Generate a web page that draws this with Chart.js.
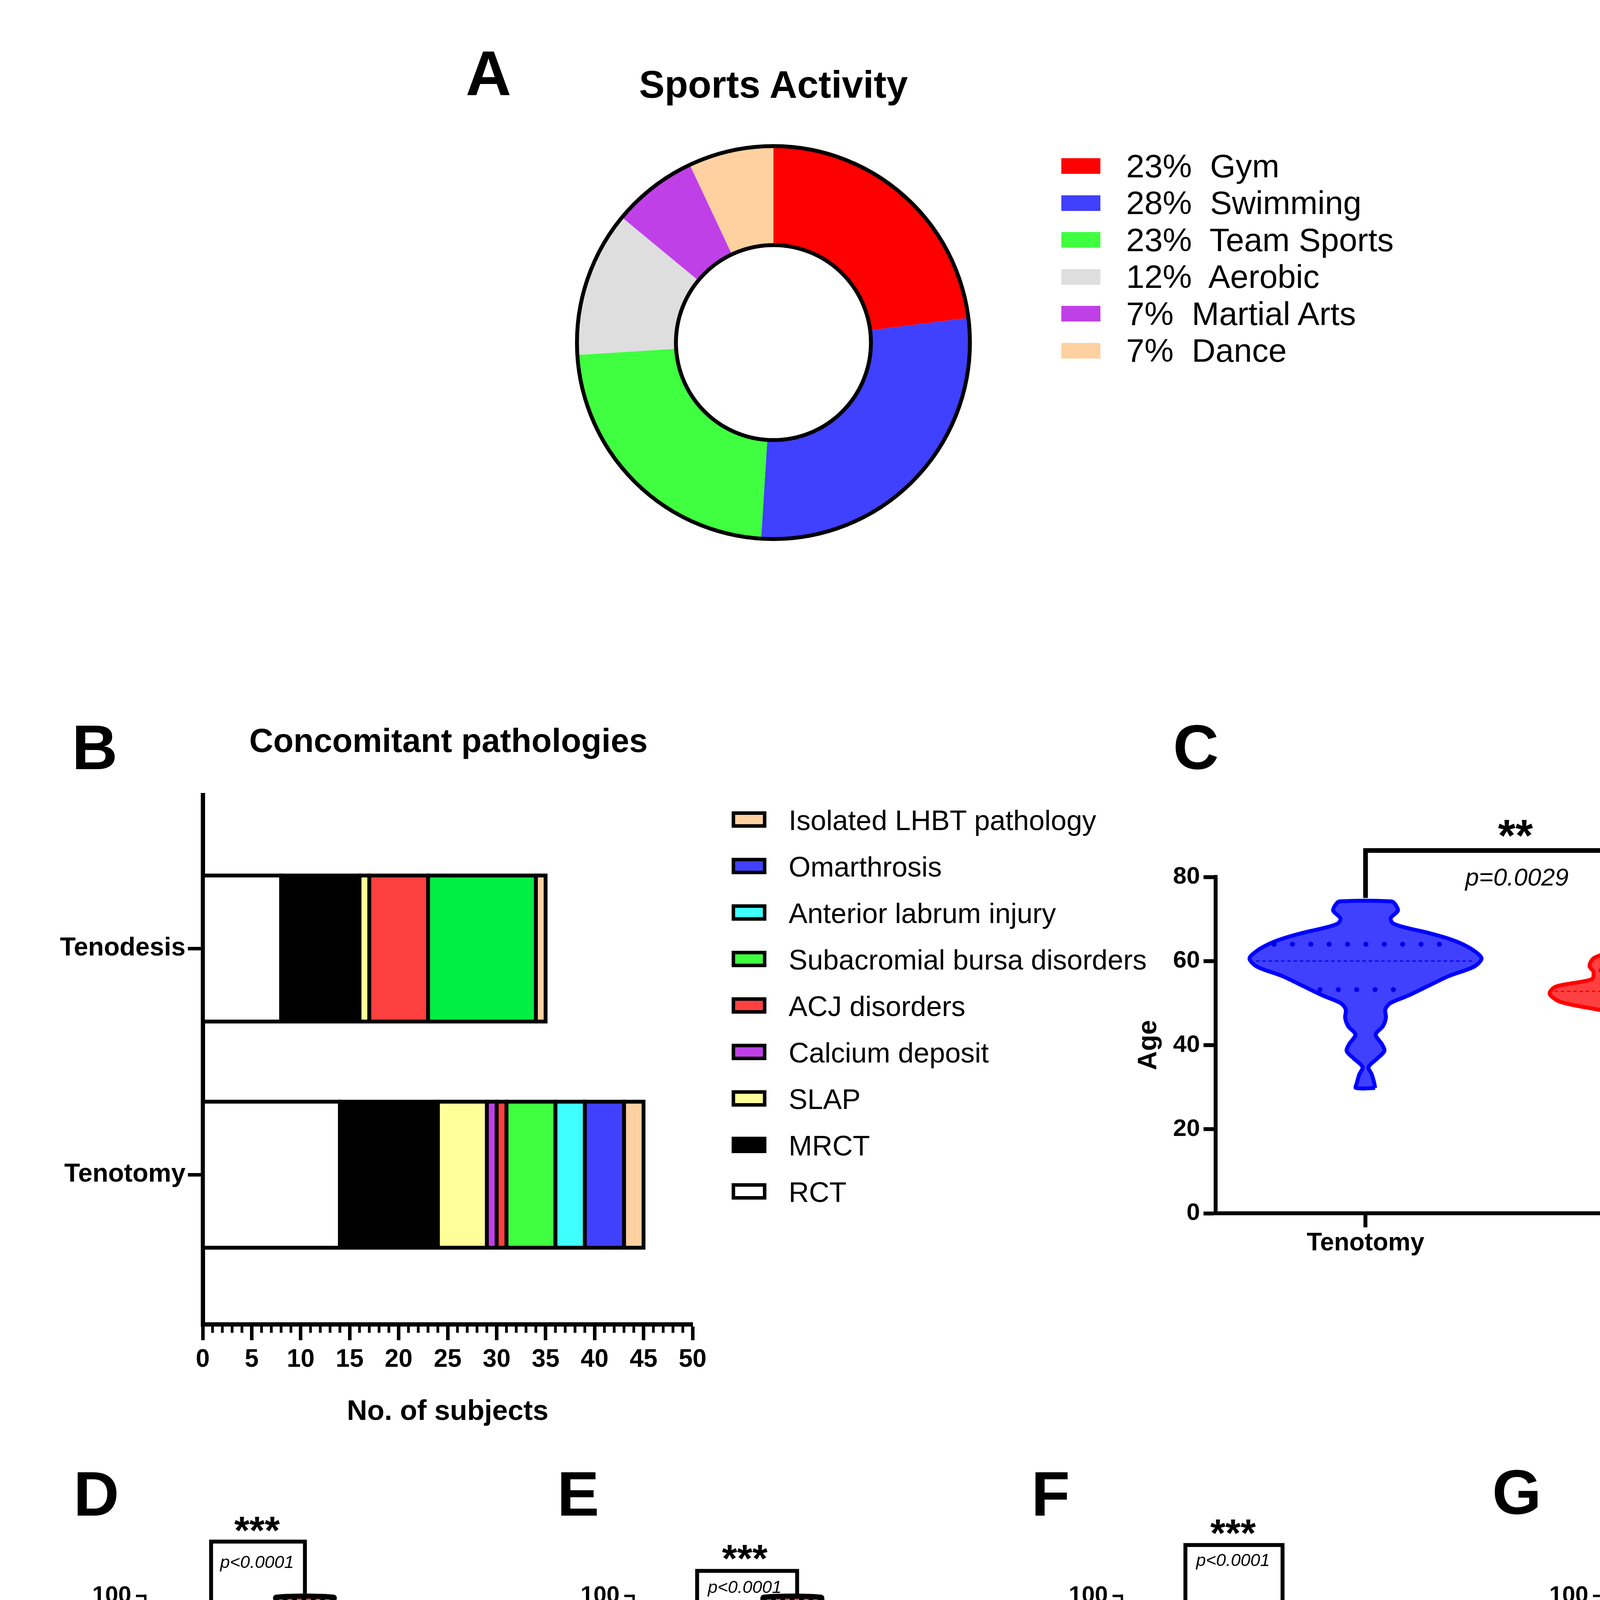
<!DOCTYPE html>
<html>
<head>
<meta charset="utf-8">
<script src="https://cdn.jsdelivr.net/npm/chart.js"></script>
<style>
  body { margin: 0; background: #fff; }
  #page { position: relative; width: 4919px; height: 6965px; overflow: hidden; background: #fff;
          font-family: 'Liberation Sans', Arial, sans-serif; color: #000; }
  canvas { position: absolute; }
  .t { position: absolute; white-space: pre; line-height: 1; }
  .box { position: absolute; box-sizing: border-box; }
</style>
</head>
<body>
<div id="page"></div>
<script>
// ---------- data ----------
// A: sports activity
const sportLabels = ['Gym', 'Swimming', 'Team Sports', 'Aerobic', 'Martial Arts', 'Dance'];
const sportShare = [23, 28, 23, 12, 7, 7];
const sportColors = ['#FF0000', '#4040FF', '#40FF40', '#DEDEDE', '#C040E8', '#FFD0A0'];

// B: concomitant pathologies (stack order left to right)
const groupLabels = ['Tenodesis', 'Tenotomy'];
const pathologyLabels = ['RCT', 'MRCT', 'SLAP', 'Calcium deposit', 'ACJ disorders',
  'Subacromial bursa disorders', 'Anterior labrum injury', 'Omarthrosis', 'Isolated LHBT pathology'];
const tenodesisCounts = [8, 8, 1, 0, 6, 11, 0, 0, 1];
const tenotomyCounts = [14, 10, 5, 1, 1, 5, 3, 4, 2];
const pathologyColors = ['#FFFFFF', '#000000', '#FFFF99', '#C040E8', '#FF4040', '#40FF40', '#40FFFF', '#4040FF', '#FFD0A0'];
const subjectTicks = [0, 5, 10, 15, 20, 25, 30, 35, 40, 45, 50];

// C: age violins (level, half width in category units)
const ageGroups = ['Tenotomy', 'Tenodesis'];
const tenotomyAgeY = [29.8, 31, 33, 34.8, 36.8, 38.6, 40.2, 42.5, 44.5, 46.5, 48.5, 50, 51.8, 54, 56.4, 58.7, 60.6, 62.4, 64.2, 65.5, 66.8, 68, 69, 70.2, 72, 73.5, 74.2];
const tenotomyAgeW = [.032, .029, .021, .01, .039, .063, .055, .034, .058, .068, .066, .083, .143, .207, .277, .363, .387, .363, .318, .269, .204, .131, .091, .084, .108, .099, .086];
const tenodesisAgeY = [26.8, 28.2, 30.2, 32.9, 35.6, 37.4, 39.1, 41, 42.7, 44.9, 46.7, 48.5, 50.3, 52.2, 53.9, 55.7, 57.5, 58.8, 60.6, 61.9, 62.8, 63.7, 65.5, 67.7, 70, 71.5, 73, 74.6];
const tenodesisAgeW = [.092, .096, .066, .099, .042, .01, .047, .07, .094, .042, .075, .228, .35, .386, .366, .245, .24, .253, .24, .194, .139, .047, .01, .01, .01, .026, .058, .088];
const tenotomyAgeQ = [53.2, 60, 64];
const tenotomyAgeQW = [.152, .365, .305];
const tenodesisAgeQ = [48.8, 52.8, 57.8];
const tenodesisAgeQW = [.185, .37, .214];

// D-G: ASES violins
const asesGroups = ['Preoperative ASES', 'Postoperative ASES'];
const techGroups = ['Tenotomy', 'Tenodesis'];
const dPreY = [33.6, 34.4, 35.5, 37.6, 39.9, 41.6, 43.0, 44.4, 45.8, 47.3, 49.8, 52.0, 53.8, 55.4, 57.4, 59.0, 59.9];
const dPreW = [.07, .095, .123, .219, .305, .219, .14, .09, .11, .14, .22, .165, .125, .125, .16, .135, .115];
const dPostY = [50.0, 51.5, 53.8, 57.4, 61.0, 64.5, 68.0, 71.5, 75.0, 78.5, 81.5, 84.2, 87.5, 90.0, 92.5, 95.5, 98.0, 99.7];
const dPostW = [.03, .03, .04, .08, .115, .135, .16, .175, .18, .185, .175, .13, .075, .065, .09, .18, .27, .30];
const ePreY = [34.0, 35.9, 37.7, 39.5, 41.7, 44.0, 46.2, 48.9, 52.0, 53.8, 56.0, 57.8, 59.0, 59.9];
const ePreW = [.07, .127, .222, .28, .197, .08, .127, .19, .149, .102, .222, .286, .25, .19];
const ePostY = [50.0, 51.5, 54.7, 58.3, 62.7, 66.3, 69.9, 75.2, 80.6, 86.0, 89.5, 92.7, 95.4, 97.6, 99.7];
const ePostW = [.015, .02, .035, .064, .035, .012, .015, .04, .06, .04, .035, .085, .18, .277, .30];
const fPreY = [34.0, 35.0, 36.8, 38.8, 40.8, 42.2, 44.4, 47.5, 50.2, 52.9, 55.1, 57.4, 59.9];
const fPreW = [.064, .095, .213, .302, .213, .095, .038, .118, .21, .149, .07, .025, .025];
const fPostY = [50.0, 52.0, 54.7, 57.4, 60.0, 63.6, 66.8, 69.4, 72.1, 74.8, 76.6, 79.3, 81.9, 85.1, 88.7, 92.2, 95.5, 97.8];
const fPostW = [.03, .035, .012, .054, .111, .127, .229, .302, .245, .181, .2, .258, .204, .111, .054, .012, .035, .025];
const gTenotomyY = [50.0, 54.7, 58.3, 62.7, 66.8, 69.9, 75.2, 80.2, 84.2, 88.7, 92.2, 94.9, 97.6, 99.7];
const gTenotomyW = [.02, .037, .062, .037, .01, .014, .056, .076, .07, .056, .073, .158, .271, .305];
const gTenodesisY = [50.0, 52.0, 54.3, 57.4, 61.0, 65.4, 69.4, 72.3, 75.2, 79.3, 84.2, 88.7, 92.2, 95.5, 97.8];
const gTenodesisW = [.037, .037, .012, .04, .13, .2, .305, .26, .214, .271, .141, .051, .012, .03, .028];

// H-J: correlations
const hAge = [27,28,30,33,33,38,39,42,43,45,45,49,49,50,50,51,51,52,53,52,53,53,52,53,54,55,55,55,56,57,58,58,58,58,59,60,60,60,60,60,60,61,61,62,62,62,63,63,64,64,65,65,65,66,67,70,72,73,74,74,75];
const hPreAses = [50,50,56,50,40,45,56,40,60,55,48,55,40,50,38,47,42,60,60,40,50,46,38,36,40,52,46,36,52,50,58,50,40,38,34,56,46,45,42,40,35,58,34,48,40,38,60,40,56,38,60,57,36,49,50,50,40,58,56,38,38];
const hFitX = [28, 75];
const hFitY = [48.4, 44.9];
const iAge = [27,28,30,33,33,38,39,42,43,45,45,49,49,49,50,51,51,52,53,52,52,53,53,53,53,54,55,55,55,55,56,57,57,58,58,58,58,59,60,60,60,60,60,60,61,61,62,62,62,63,63,64,65,66,64,67,70,72,73,74,74,75];
const iPostAses = [98,80,100,80,78,100,80,80,80,95,60,98,85,80,70,80,68,100,100,75,50,83,78,75,70,58,83,72,70,62,96,100,90,100,68,65,55,60,100,96,86,75,68,50,100,60,86,70,58,100,94,100,100,100,96,78,100,100,98,73,65,72];
const iFitX = [28, 75];
const iFitY = [81, 82.3];
const jFollowUp = [7,9,10,10,10,12,12,12,13,13,13,13,14,14,14,15,15,16,16,18,18,18,18,18,18,20,20,22,22,24,24,24,25,26,27,29,29,29,30,30,30,30,32,33,34,36,36,36,37,38,38,40,44,45,45,45,44,48,49,50,51,53,54,54];
const jPostAses = [58,100,96,72,60,80,70,68,100,90,83,70,86,80,78,100,72,70,65,85,80,75,68,62,60,70,60,100,80,100,80,78,95,98,100,96,60,50,100,86,68,65,58,100,50,98,94,80,75,75,100,100,100,100,98,96,55,78,100,100,100,83,100,73];
const jFitX = [7, 54];
const jFitY = [74.5, 91.6];

// ---------- helpers ----------
const FONT = "'Liberation Sans', Arial, sans-serif";
Chart.defaults.font.family = FONT;
Chart.defaults.color = '#000';
Chart.defaults.animation = false;
Chart.defaults.events = [];
Chart.defaults.plugins.legend.display = false;
Chart.defaults.plugins.tooltip.enabled = false;

const page = document.getElementById('page');

function addCanvas(left, top, w, h) {
  const c = document.createElement('canvas');
  c.width = w; c.height = h;
  c.style.left = left + 'px'; c.style.top = top + 'px';
  c.style.width = w + 'px'; c.style.height = h + 'px';
  page.appendChild(c);
  return c.getContext('2d');
}

function text(s, x, base, size, weight, align) {
  const d = document.createElement('div');
  d.className = 't';
  d.textContent = s;
  d.style.fontSize = size + 'px';
  d.style.fontWeight = weight || 'normal';
  d.style.top = (base - 0.8465 * size) + 'px';
  d.style.left = x + 'px';
  if (align === 'center') d.style.transform = 'translateX(-50%)';
  page.appendChild(d);
}

function box(x, y, w, h, color, border) {
  const d = document.createElement('div');
  d.className = 'box';
  Object.assign(d.style, { left: x + 'px', top: y + 'px', width: w + 'px', height: h + 'px', background: color });
  if (border) d.style.border = border + 'px solid #000';
  page.appendChild(d);
}

function violin(center, ys, ws) {
  const right = ys.map((y, i) => ({ x: center + ws[i], y }));
  const left = ys.map((y, i) => ({ x: center - ws[i], y })).reverse();
  return right.concat(left, [right[0]]);
}

const minorTicks = {
  id: 'minorTicks',
  afterDraw(chart, args, opts) {
    const ctx = chart.ctx;
    (opts.list || []).forEach(m => {
      const s = chart.scales[m.axis];
      ctx.save();
      ctx.strokeStyle = '#000';
      ctx.lineWidth = m.width;
      const n = Math.round((s.max - s.min) / m.step);
      for (let k = 0; k <= n; k++) {
        const v = s.min + k * m.step;
        if (Math.abs(v / m.major - Math.round(v / m.major)) < 1e-6) continue;
        const p = s.getPixelForValue(v);
        ctx.beginPath();
        if (s.isHorizontal()) { ctx.moveTo(p, s.top); ctx.lineTo(p, s.top + m.len); }
        else { ctx.moveTo(s.right, p); ctx.lineTo(s.right - m.len, p); }
        ctx.stroke();
      }
      ctx.restore();
    });
  }
};

const annot = {
  id: 'annot',
  afterDraw(chart, args, o) {
    const { ctx } = chart;
    const x = chart.scales.x, y = chart.scales.y;
    ctx.save();
    ctx.strokeStyle = '#000';
    ctx.fillStyle = '#000';
    ctx.lineWidth = o.lineWidth || 10;
    ctx.lineJoin = 'miter';
    (o.brackets || []).forEach(b => {
      ctx.beginPath();
      ctx.moveTo(x.getPixelForValue(b.x1), y.getPixelForValue(b.y1));
      ctx.lineTo(x.getPixelForValue(b.x1), y.getPixelForValue(b.top));
      ctx.lineTo(x.getPixelForValue(b.x2), y.getPixelForValue(b.top));
      ctx.lineTo(x.getPixelForValue(b.x2), y.getPixelForValue(b.y2));
      ctx.stroke();
    });
    (o.texts || []).forEach(t => {
      ctx.font = t.font;
      ctx.textAlign = t.align || 'center';
      ctx.textBaseline = t.baseline || 'middle';
      const px = x.getPixelForValue(t.x), py = y.getPixelForValue(t.y);
      ctx.fillText(t.t, px, py);
      if (t.sup) {
        const w = ctx.measureText(t.t).width;
        ctx.font = t.supFont;
        ctx.textAlign = 'left';
        ctx.fillText(t.sup, px + w + 4, py - t.supRise);
      }
    });
    ctx.restore();
  }
};

const ringOutline = {
  id: 'ringOutline',
  afterDatasetsDraw(chart, args, o) {
    const arc = chart.getDatasetMeta(0).data[0];
    const { x, y, outerRadius, innerRadius } = arc.getProps(['x', 'y', 'outerRadius', 'innerRadius'], true);
    const ctx = chart.ctx;
    ctx.save();
    ctx.lineWidth = o.width;
    ctx.strokeStyle = '#000';
    [outerRadius, innerRadius].forEach(r => { ctx.beginPath(); ctx.arc(x, y, r, 0, Math.PI * 2); ctx.stroke(); });
    ctx.restore();
  }
};

function linesPattern(ctx) {
  const c = document.createElement('canvas');
  c.width = 24; c.height = 17;
  const g = c.getContext('2d');
  g.fillStyle = '#40FF40'; g.fillRect(0, 0, 24, 17);
  g.fillStyle = '#000'; g.fillRect(0, 0, 24, 2);
  return ctx.createPattern(c, 'repeat');
}
function checkerPattern(ctx) {
  const c = document.createElement('canvas');
  c.width = 24; c.height = 24;
  const g = c.getContext('2d');
  g.fillStyle = '#FF4040'; g.fillRect(0, 0, 24, 24);
  g.fillStyle = '#000'; g.fillRect(0, 0, 12, 12); g.fillRect(12, 12, 12, 12);
  return ctx.createPattern(c, 'repeat');
}

const bold = size => ({ size, weight: 'bold' });

// ---------- A: doughnut ----------
{
  const ctx = addCanvas(1450, 347, 1060, 1060);
  new Chart(ctx, {
    type: 'doughnut',
    data: { labels: sportLabels, datasets: [{ data: sportShare, backgroundColor: sportColors, borderWidth: 0 }] },
    options: {
      responsive: false, devicePixelRatio: 1,
      radius: 503, cutout: 263,
      plugins: { ringOutline: { width: 10 } }
    },
    plugins: [ringOutline]
  });
  sportLabels.forEach((lab, k) => {
    box(2717, 405 + 94.5 * k, 100, 40, sportColors[k]);
    text(sportShare[k] + '%  ' + lab, 2883, 454 + 94.5 * k, 84);
  });
}

// ---------- B: stacked bars ----------
{
  const ctx = addCanvas(100, 1990, 1750, 1710);
  const subacromialShade = ['#00EE44', '#40FF40'];
  const datasets = pathologyLabels.map((lab, i) => ({
    label: lab,
    data: [{ x: tenodesisCounts[i] || null, y: 1 }, { x: tenotomyCounts[i] || null, y: 2 }],
    backgroundColor: i === 5 ? subacromialShade : pathologyColors[i],
    borderColor: '#000', borderWidth: 10, borderSkipped: false, inflateAmount: 5,
    barThickness: 374
  }));
  new Chart(ctx, {
    type: 'bar',
    data: { datasets },
    options: {
      responsive: false, devicePixelRatio: 1, indexAxis: 'y',
      layout: { padding: { top: 41, right: 77, left: 0, bottom: 0 } },
      scales: {
        x: {
          type: 'linear', min: 0, max: 50, stacked: true,
          afterBuildTicks: s => { s.ticks = subjectTicks.map(v => ({ value: v })); },
          ticks: { font: bold(64), padding: 12, autoSkip: false, maxRotation: 0 },
          grid: { drawOnChartArea: false, tickLength: 41, tickWidth: 9, tickColor: '#000' },
          border: { width: 11, color: '#000' },
          title: { display: true, text: 'No. of subjects', font: bold(72), padding: { top: 0, bottom: 42 } },
          afterFit: s => { s.height = 310; }
        },
        y: {
          type: 'linear', min: 0.322, max: 2.661, reverse: true, stacked: true, offset: false,
          afterBuildTicks: s => { s.ticks = [{ value: 1 }, { value: 2 }]; },
          ticks: { callback: v => groupLabels[v - 1], font: bold(66), padding: 6 },
          grid: { offset: false, drawOnChartArea: false, tickLength: 38, tickWidth: 9, tickColor: '#000' },
          border: { width: 11, color: '#000' },
          afterFit: s => { s.width = 419; }
        }
      },
      plugins: { minorTicks: { list: [{ axis: 'x', step: 1, major: 5, len: 22, width: 7 }] } }
    },
    plugins: [minorTicks]
  });
  for (let k = 0; k < pathologyLabels.length; k++) {
    const i = pathologyLabels.length - 1 - k;
    box(1873, 2077 + 119 * k, 89, 42, pathologyColors[i], 9);
    text(pathologyLabels[i], 2019, 2125 + 119 * k, 72);
  }
}

// ---------- C: age violins ----------
{
  const ctx = addCanvas(2850, 2050, 1900, 1250);
  const qLine = (c, q, w, color, dotted) => ({
    data: [{ x: c - w, y: q }, { x: c + w, y: q }],
    borderColor: color, pointRadius: 0, fill: false, clip: false, order: 1,
    borderWidth: dotted ? 13 : 3, borderDash: dotted ? [0.01, 47] : [9, 7], borderCapStyle: dotted ? 'round' : 'butt'
  });
  const datasets = [
    { data: violin(1, tenotomyAgeY, tenotomyAgeW), fill: 'shape', backgroundColor: '#4040FF', borderColor: '#0000FF',
      borderWidth: 10, pointRadius: 0, tension: 0.3, borderJoinStyle: 'round', clip: false, order: 2 },
    { data: violin(2, tenodesisAgeY, tenodesisAgeW), fill: 'shape', backgroundColor: '#FF4040', borderColor: '#FF0000',
      borderWidth: 10, pointRadius: 0, tension: 0.3, borderJoinStyle: 'round', clip: false, order: 2 }
  ];
  tenotomyAgeQ.forEach((q, k) => datasets.push(qLine(1, q, tenotomyAgeQW[k], '#0000E8', k !== 1)));
  tenodesisAgeQ.forEach((q, k) => datasets.push(qLine(2, q, tenodesisAgeQW[k], '#E80000', k !== 1)));
  new Chart(ctx, {
    type: 'line',
    data: { datasets },
    options: {
      responsive: false, devicePixelRatio: 1,
      layout: { padding: { top: 195, right: 103, left: 0, bottom: 0 } },
      scales: {
        x: {
          type: 'linear', min: 0.5, max: 2.5,
          afterBuildTicks: s => { s.ticks = [{ value: 1 }, { value: 2 }]; },
          ticks: { callback: v => ageGroups[v - 1], font: bold(64), padding: 3, autoSkip: false, maxRotation: 0 },
          grid: { drawOnChartArea: false, tickLength: 36, tickWidth: 10, tickColor: '#000' },
          border: { width: 10, color: '#000' },
          afterFit: s => { s.height = 194; }
        },
        y: {
          min: 0, max: 80,
          ticks: { stepSize: 20, font: bold(62), padding: 9 },
          grid: { drawOnChartArea: false, tickLength: 31, tickWidth: 10, tickColor: '#000' },
          border: { width: 10, color: '#000' },
          title: { display: true, text: 'Age', font: bold(68), padding: { top: 50, bottom: 0 } },
          afterFit: s => { s.width = 262; }
        }
      },
      plugins: {
        annot: {
          lineWidth: 12,
          brackets: [{ x1: 1, y1: 75, x2: 2, y2: 75, top: 86.3 }],
          texts: [
            { t: '**', x: 1.5, y: 89.2, font: 'bold 115px ' + FONT },
            { t: 'p=0.0029', x: 1.505, y: 79.6, font: 'italic 63px ' + FONT }
          ]
        }
      }
    },
    plugins: [annot]
  });
}

// ---------- D-G: ASES violins ----------
function asesChart(left, yW, width, cats, labelSize, preY, preW, postY, postW, bracket, starsY, pY) {
  const ctx = addCanvas(left, 3700, width, 1750);
  const base = { borderColor: '#000', borderWidth: 13, pointRadius: 0, tension: 0.3, borderJoinStyle: 'round', clip: false, fill: 'shape' };
  new Chart(ctx, {
    type: 'line',
    data: {
      datasets: [
        Object.assign({ data: violin(1, preY, preW), backgroundColor: linesPattern(ctx) }, base),
        Object.assign({ data: violin(2, postY, postW), backgroundColor: checkerPattern(ctx) }, base)
      ]
    },
    options: {
      responsive: false, devicePixelRatio: 1,
      layout: { padding: { top: 385, right: width - yW - 588, left: 0, bottom: 0 } },
      scales: {
        x: {
          type: 'linear', min: 1 / 3, max: 8 / 3,
          afterBuildTicks: s => { s.ticks = [{ value: 1 }, { value: 2 }]; },
          ticks: { callback: v => cats[v - 1], font: bold(labelSize), padding: 10, autoSkip: false, minRotation: 45, maxRotation: 45 },
          grid: { drawOnChartArea: false, tickLength: 25, tickWidth: 6, tickColor: '#000' },
          border: { width: 6, color: '#000' },
          afterFit: s => { s.height = 492; }
        },
        y: {
          min: 30, max: 100,
          ticks: { stepSize: 10, font: bold(60), padding: 12 },
          grid: { drawOnChartArea: false, tickLength: 24, tickWidth: 6, tickColor: '#000' },
          border: { width: 6, color: '#000' },
          title: { display: true, text: 'ASES', font: bold(58), padding: { top: 27, bottom: 0 } },
          afterFit: s => { s.width = yW; }
        }
      },
      plugins: {
        annot: {
          lineWidth: 10,
          brackets: [bracket],
          texts: [
            { t: '***', x: 1.5, y: starsY, font: 'bold 100px ' + FONT },
            { t: 'p<0.0001', x: 1.5, y: pY, font: 'italic 45px ' + FONT }
          ]
        }
      }
    },
    plugins: [annot]
  });
}
asesChart(100, 256, 1150, asesGroups, 55, dPreY, dPreW, dPostY, dPostW, { x1: 1.02, y1: 59.3, x2: 2, y2: 100, top: 111.1 }, 112.9, 106.7);
asesChart(1350, 253, 1150, asesGroups, 55, ePreY, ePreW, ePostY, ePostW, { x1: 1, y1: 58.8, x2: 2.05, y2: 100, top: 105.1 }, 107.1, 101.6);
asesChart(2600, 253, 1150, asesGroups, 55, fPreY, fPreW, fPostY, fPostW, { x1: 1, y1: 58.8, x2: 2.02, y2: 97.6, top: 110.4 }, 112.3, 107.1);
asesChart(3850, 252, 1000, techGroups, 58, gTenotomyY, gTenotomyW, gTenodesisY, gTenodesisW, { x1: 1, y1: 99, x2: 2.02, y2: 98, top: 107.9 }, 109.8, 104.3);

// ---------- H-J: scatter ----------
function scatterChart(left, yW, xMax, xs, ys, fitX, fitY, xTitle, yTitle, yTitlePad, xMinor, texts) {
  const ctx = addCanvas(left, 5600, 1450, 1300);
  const minor = [{ axis: 'y', step: 5, major: 50, len: 16, width: 5 }];
  if (xMinor) minor.push({ axis: 'x', step: 2, major: 20, len: 16, width: 5 });
  new Chart(ctx, {
    type: 'scatter',
    data: {
      datasets: [
        { data: xs.map((v, i) => ({ x: v, y: ys[i] })), pointRadius: 15, backgroundColor: '#000', borderWidth: 0, clip: false },
        { data: fitX.map((v, i) => ({ x: v, y: fitY[i] })), showLine: true, pointRadius: 0, borderColor: '#FF0000', borderWidth: 3 }
      ]
    },
    options: {
      responsive: false, devicePixelRatio: 1,
      layout: { padding: { top: 319, right: 1450 - yW - 1083, left: 0, bottom: 0 } },
      scales: {
        x: {
          type: 'linear', min: 0, max: xMax,
          ticks: { stepSize: 20, font: bold(56), padding: 8, maxRotation: 0 },
          grid: { drawOnChartArea: false, tickLength: 29, tickWidth: 6, tickColor: '#000' },
          border: { width: 6, color: '#000' },
          title: { display: true, text: xTitle, font: bold(60), padding: { top: 0, bottom: 62 } },
          afterFit: s => { s.height = 260; }
        },
        y: {
          min: 0, max: 100,
          ticks: { stepSize: 50, font: bold(54), padding: 11 },
          grid: { drawOnChartArea: false, tickLength: 29, tickWidth: 6, tickColor: '#000' },
          border: { width: 6, color: '#000' },
          title: { display: true, text: yTitle, font: bold(60), padding: { top: yTitlePad, bottom: 0 } },
          afterFit: s => { s.width = yW; }
        }
      },
      plugins: { minorTicks: { list: minor }, annot: { texts } }
    },
    plugins: [minorTicks, annot]
  });
}
const it60 = 'italic 60px ' + FONT;
scatterChart(100, 252, 80, hAge, hPreAses, hFitX, hFitY, 'Age', 'Preoperative ASES', 36, false, [
  { t: 'Spearman r=-0.08344', x: 25.4, y: 96.8, font: it60, align: 'left', baseline: 'alphabetic' },
  { t: 'p=0.5020', x: 25.4, y: 79.3, font: it60, align: 'left', baseline: 'alphabetic' }
]);
scatterChart(1650, 271, 80, iAge, iPostAses, iFitX, iFitY, 'Age', 'Postoperative ASES', 53, false, [
  { t: 'Spearman r=0.1122', x: 33.2, y: 125.1, font: it60, align: 'left', baseline: 'alphabetic' },
  { t: 'p=0.3662', x: 33.2, y: 111.5, font: it60, align: 'left', baseline: 'alphabetic' }
]);
scatterChart(3200, 267, 60, jFollowUp, jPostAses, jFitX, jFitY, 'Mean follow-up', 'Postoperative ASES', 49, true, [
  { t: 'Spearman r=0.3069', x: 17.5, y: 123.2, font: it60, align: 'left', baseline: 'alphabetic' },
  { t: 'p=0.01155', x: 17.5, y: 107.6, font: it60, align: 'left', baseline: 'alphabetic',
    sup: '*', supFont: 'italic 40px ' + FONT, supRise: 27 }
]);

// ---------- panel letters and titles ----------
const letters = [['A', 1192, 243], ['B', 184, 1969], ['C', 3003, 1968], ['D', 188, 3880], ['E', 1426, 3880],
  ['F', 2640, 3880], ['G', 3820, 3875], ['H', 173, 5752], ['I', 1664, 5750], ['J', 3267, 5745]];
letters.forEach(([s, x, b]) => text(s, x, b, 162, 'bold'));
text('Sports Activity', 1980, 250, 98, 'bold', 'center');
text('Concomitant pathologies', 1148, 1925, 85, 'bold', 'center');
text('Tenotomy', 1905, 5578, 70, 'bold', 'center');
text('Tenodesis', 3161, 5578, 70, 'bold', 'center');
text('Postoperative ASES', 4357, 5568, 70, 'bold', 'center');
</script>
</body>
</html>
